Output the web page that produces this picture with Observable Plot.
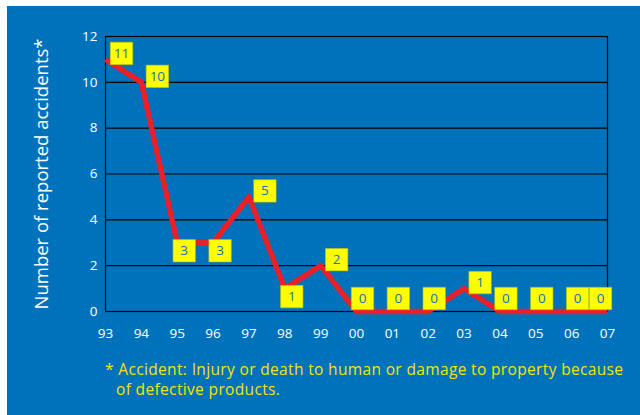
<!DOCTYPE html>
<html>
<head>
<meta charset="utf-8">
<script src="https://cdn.jsdelivr.net/npm/d3@7"></script>
<script src="https://cdn.jsdelivr.net/npm/@observablehq/plot@0.6"></script>
<style>
  html, body { margin: 0; padding: 0; background: #ffffff; }
  #panel { position: absolute; left: 7px; top: 6px; width: 633px; height: 409px; background: #0072bc; }
  #chart { position: absolute; left: 0; top: 0; }
  #note { position: absolute; left: 98px; top: 353px; width: 515px; color: #f2e600;
          font-family: "Open Sans", sans-serif; font-size: 15.5px; line-height: 20px; letter-spacing: 0.35px;
          padding-left: 11px; text-indent: -11px; }
</style>
</head>
<body>
<div id="panel"><div id="chart"></div><div id="note"></div></div>
<script>
const years = ["93","94","95","96","97","98","99","00","01","02","03","04","05","06","07"];
const accidents = [11, 10, 3, 3, 5, 1, 2, 0, 0, 0, 1, 0, 0, 0, 0];
const yTicks = [0, 2, 4, 6, 8, 10, 12];
const yTitle = "Number of reported accidents*";
const footnote = "* Accident: Injury or death to human or damage to property because of defective products.";

const data = years.map((yr, i) => ({year: yr, value: accidents[i], i}));

// label placement derived from the data: above the line unless a local minimum
function side(d) {
  if (d.value === 0) return "zero";
  const prev = accidents[d.i - 1], next = accidents[d.i + 1];
  const lowPrev = prev === undefined || d.value <= prev;
  const lowNext = next === undefined || d.value <= next;
  return (lowPrev && lowNext) ? "below" : "above";
}
const groups = {above: {dx: 16, dy: -6}, below: {dx: 7, dy: 8}, zero: {dx: 6, dy: -13}};

const labelMarks = [];
for (const [key, g] of Object.entries(groups)) {
  const sub = data.filter(d => side(d) === key);
  const inner = sub.filter(d => d.i < years.length - 1);
  const last = sub.filter(d => d.i === years.length - 1);
  for (const [set, dx] of [[inner, g.dx], [last, -7]]) {
    if (!set.length) continue;
    labelMarks.push(Plot.dot(set, {x: "year", y: "value", dx, dy: g.dy, symbol: "square", r: 12.6,
      fill: "#ffff00", stroke: "#c8c800", strokeWidth: 0.6}));
    labelMarks.push(Plot.text(set, {x: "year", y: "value", dx, dy: g.dy, text: d => String(d.value),
      fill: "#1a6fb4", fontSize: 13.5, fontFamily: "Open Sans, sans-serif"}));
  }
}

const plot = Plot.plot({
  width: 633,
  height: 350,
  marginLeft: 98,
  marginTop: 30,
  marginRight: 33,
  marginBottom: 45,
  style: {background: "transparent", color: "#ffffff", fontFamily: "Open Sans, sans-serif"},
  x: {type: "point", domain: years, padding: 0, inset: 0, round: false},
  y: {domain: [0, 12], inset: 0},
  marks: [
    Plot.gridY(yTicks, {stroke: "#000000", strokeOpacity: 1, strokeWidth: 1.2}),
    Plot.frame({stroke: "#000000", strokeWidth: 1.2}),
    Plot.axisX({tickSize: 0, tickPadding: 17, fontSize: 13.5, label: null, fill: "#ffffff"}),
    Plot.axisY(yTicks, {tickSize: 0, tickPadding: 8, fontSize: 13.5, label: null, fill: "#ffffff"}),
    Plot.text([yTitle], {frameAnchor: "left", rotate: -90, dx: -63, textAnchor: "middle",
      fontSize: 18.5, fill: "#ffffff"}),
    Plot.line(data, {x: "year", y: "value", stroke: "#e8202a", strokeWidth: 5.5,
      strokeLinejoin: "round", strokeLinecap: "butt"}),
    ...labelMarks
  ]
});
document.getElementById("chart").appendChild(plot);
document.getElementById("note").textContent = footnote;
</script>
</body>
</html>
